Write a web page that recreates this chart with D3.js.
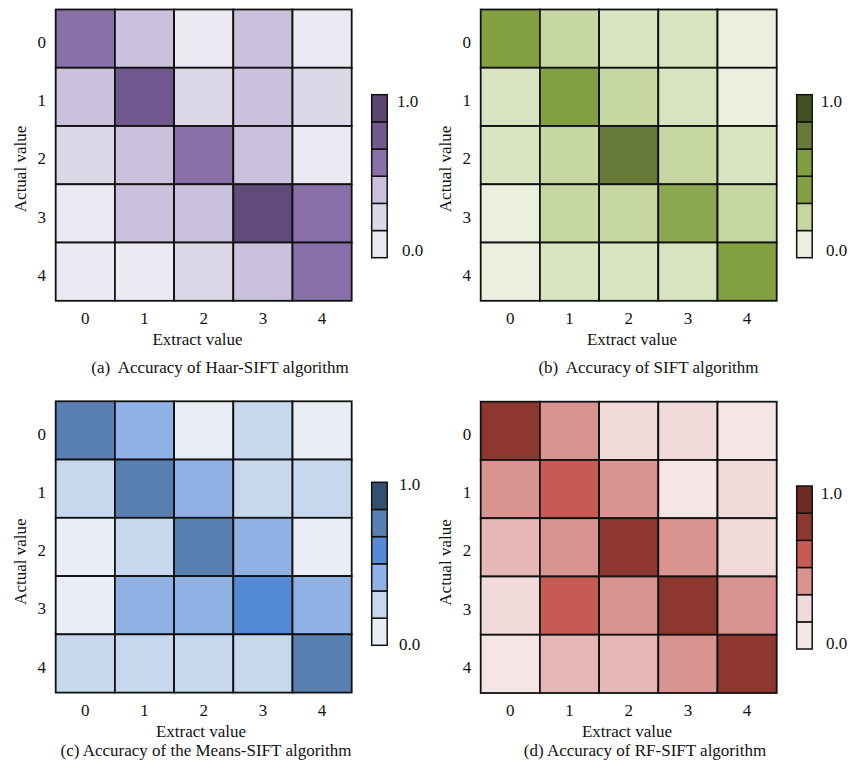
<!DOCTYPE html>
<html>
<head>
<meta charset="utf-8">
<script src="https://cdn.jsdelivr.net/npm/d3@7"></script>
<style>
  body { margin: 0; background: #fff; }
  svg { display: block; font-family: "Liberation Serif", "Times New Roman", serif; }
  text { fill: #111; }
</style>
</head>
<body>
<svg id="chart" width="851" height="766"></svg>
<script>
// categories (both axes)
const classes = [0, 1, 2, 3, 4];

// accuracy matrices, rows = actual value, cols = extract value
const haarSift = [
  [0.6, 0.4, 0.0, 0.4, 0.0],
  [0.4, 0.8, 0.2, 0.4, 0.2],
  [0.2, 0.4, 0.6, 0.4, 0.0],
  [0.0, 0.4, 0.4, 0.94, 0.6],
  [0.0, 0.0, 0.2, 0.4, 0.6]
];
const sift = [
  [0.4, 0.2, 0.1, 0.1, 0.0],
  [0.1, 0.4, 0.2, 0.1, 0.0],
  [0.1, 0.2, 0.8, 0.2, 0.1],
  [0.0, 0.2, 0.2, 0.37, 0.2],
  [0.0, 0.1, 0.1, 0.1, 0.4]
];
const meansSift = [
  [0.8, 0.4, 0.0, 0.2, 0.0],
  [0.2, 0.8, 0.4, 0.2, 0.2],
  [0.0, 0.2, 0.8, 0.4, 0.0],
  [0.0, 0.4, 0.4, 0.6, 0.4],
  [0.2, 0.2, 0.2, 0.2, 0.8]
];
const rfSift = [
  [0.8, 0.4, 0.2, 0.2, 0.0],
  [0.4, 0.6, 0.4, 0.0, 0.2],
  [0.3, 0.4, 0.8, 0.4, 0.2],
  [0.2, 0.6, 0.4, 0.8, 0.4],
  [0.0, 0.3, 0.3, 0.4, 0.8]
];

// colour bar levels and the palettes behind them
const levels = [0, 0.2, 0.4, 0.6, 0.8, 1.0];
const purple = ["#ece9f2", "#ddd8e8", "#cbc1dc", "#8a70a8", "#71588f", "#5a4573"];
const green  = ["#eaf0dd", "#c6d7a1", "#82a042", "#7f9e41", "#687a37", "#424f23"];
const blue   = ["#e9edf5", "#c6d7ee", "#8fb1e3", "#548bd4", "#5a80b2", "#354f72"];
const red    = ["#f6e5e5", "#f0dada", "#d99391", "#c65b54", "#8e3731", "#6e2a26"];

const barTicks = ["0.0", "1.0"];
const captions = [
  "(a)  Accuracy of Haar-SIFT algorithm",
  "(b)  Accuracy of SIFT algorithm",
  "(c) Accuracy of the Means-SIFT algorithm",
  "(d) Accuracy of RF-SIFT algorithm"
];
const xTitle = "Extract value";
const yTitle = "Actual value";

// layout of the four panels
const panels = [
  { data: haarSift, colors: purple, caption: captions[0],
    gx: 55.7, gy: 9.5, barX: 371.7, barY: 94.7,
    hi: [397, 107.4], lo: [402, 255.7], rowX: 41.7, colY: 323.6,
    xt: [197.5, 345], yt: [26, 169], cap: [220, 373] },
  { data: sift, colors: green, caption: captions[1],
    gx: 480.7, gy: 9.5, barX: 796.7, barY: 94.7,
    hi: [820.7, 107.4], lo: [826, 256.4], rowX: 466.7, colY: 323.6,
    xt: [632, 345], yt: [450.7, 169], cap: [648.5, 373] },
  { data: meansSift, colors: blue, caption: captions[2],
    gx: 55.7, gy: 401.3, barX: 371.7, barY: 482.3,
    hi: [399, 490], lo: [399, 649.7], rowX: 41.7, colY: 715.6,
    xt: [201, 736.5], yt: [26, 561.7], cap: [206, 756] },
  { data: rfSift, colors: red, caption: captions[3],
    gx: 480.7, gy: 401.7, barX: 796.7, barY: 486,
    hi: [820.7, 499], lo: [826, 648.7], rowX: 467, colY: 715.6,
    xt: [627, 736.5], yt: [450.7, 562.5], cap: [645, 756] }
];

const gridW = 296, gridH = 291.3;
const barW = 15.5, barH = 163;
const fontSize = 17;

const svg = d3.select("#chart");

panels.forEach(p => {
  const g = svg.append("g");

  const x = d3.scaleBand().domain(classes).range([p.gx, p.gx + gridW]);
  const y = d3.scaleBand().domain(classes).range([p.gy, p.gy + gridH]);
  const color = d3.scaleLinear().domain(levels).range(p.colors).interpolate(d3.interpolateRgb);

  // cells
  const cells = [];
  p.data.forEach((row, r) => row.forEach((v, c) => cells.push({ r: classes[r], c: classes[c], v })));

  g.selectAll("rect.cell")
    .data(cells)
    .join("rect")
      .attr("class", "cell")
      .attr("x", d => x(d.c))
      .attr("y", d => y(d.r))
      .attr("width", x.bandwidth())
      .attr("height", y.bandwidth())
      .attr("fill", d => color(d.v))
      .attr("stroke", "#111")
      .attr("stroke-width", 1.8);

  // row labels
  g.selectAll("text.row")
    .data(classes)
    .join("text")
      .attr("class", "row")
      .attr("x", p.rowX)
      .attr("y", d => y(d) + y.bandwidth() / 2 + 9.1)
      .attr("text-anchor", "middle")
      .attr("font-size", fontSize)
      .text(d => d);

  // column labels
  g.selectAll("text.col")
    .data(classes)
    .join("text")
      .attr("class", "col")
      .attr("x", d => x(d) + x.bandwidth() / 2)
      .attr("y", p.colY)
      .attr("text-anchor", "middle")
      .attr("font-size", fontSize)
      .text(d => d);

  // axis titles
  g.append("text")
    .attr("x", p.xt[0]).attr("y", p.xt[1])
    .attr("text-anchor", "middle")
    .attr("font-size", fontSize)
    .text(xTitle);

  g.append("text")
    .attr("transform", `translate(${p.yt[0]},${p.yt[1]}) rotate(-90)`)
    .attr("text-anchor", "middle")
    .attr("font-size", fontSize)
    .text(yTitle);

  // colour bar
  const by = d3.scaleBand().domain(levels.slice().reverse()).range([p.barY, p.barY + barH]);
  g.selectAll("rect.seg")
    .data(levels)
    .join("rect")
      .attr("class", "seg")
      .attr("x", p.barX)
      .attr("y", d => by(d))
      .attr("width", barW)
      .attr("height", by.bandwidth())
      .attr("fill", d => color(d))
      .attr("stroke", "#111")
      .attr("stroke-width", 1.5);

  g.append("text")
    .attr("x", p.hi[0]).attr("y", p.hi[1])
    .attr("font-size", fontSize)
    .text(barTicks[1]);
  g.append("text")
    .attr("x", p.lo[0]).attr("y", p.lo[1])
    .attr("font-size", fontSize)
    .text(barTicks[0]);

  // caption
  g.append("text")
    .attr("x", p.cap[0]).attr("y", p.cap[1])
    .attr("text-anchor", "middle")
    .attr("font-size", fontSize)
    .style("white-space", "pre")
    .text(p.caption);
});
</script>
</body>
</html>
